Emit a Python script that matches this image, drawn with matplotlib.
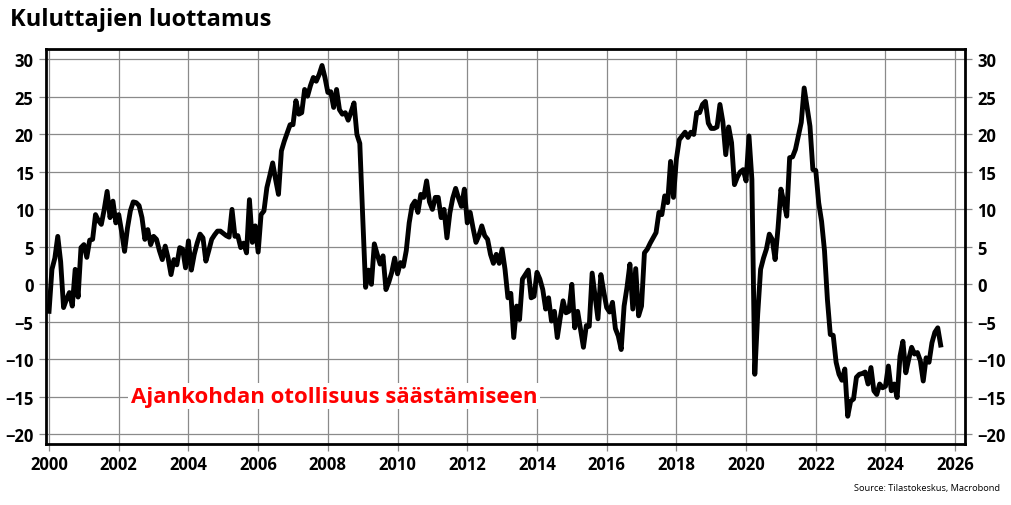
import numpy as np
import matplotlib
matplotlib.use("Agg")
import matplotlib.pyplot as plt

# Ajankohdan otollisuus säästämiseen, monthly saldoluku, Jan 2000 -> Aug 2025
v2000 = [-3.6, 2.0, 3.5, 6.4, 3.0, -3.1, -2.0, -1.1, -2.9, 2.0, -1.7, 4.9]
v2001 = [5.3, 3.6, 5.9, 6.0, 9.3, 8.5, 8.0, 10.0, 12.4, 8.9, 11.1, 8.2]
v2002 = [9.3, 7.0, 4.4, 7.5, 9.8, 11.0, 10.9, 10.5, 8.9, 6.0, 7.3, 5.3]
v2003 = [6.4, 6.0, 4.5, 3.3, 5.1, 3.5, 1.3, 3.3, 2.6, 4.9, 4.7, 2.2]
v2004 = [5.8, 1.9, 4.0, 5.5, 6.7, 6.2, 3.1, 4.5, 6.0, 6.6, 7.1, 7.1]
v2005 = [6.8, 6.5, 6.3, 10.0, 6.4, 6.5, 4.9, 5.5, 4.2, 11.3, 5.6, 7.8]
v2006 = [4.3, 9.3, 9.8, 12.9, 14.5, 16.2, 14.0, 12.0, 17.8, 19.1, 20.2, 21.3]
v2007 = [21.3, 24.5, 22.7, 22.9, 26.0, 25.1, 26.5, 27.6, 27.1, 28.0, 29.2, 27.6]
v2008 = [25.6, 25.7, 23.6, 26.0, 23.3, 22.7, 22.9, 21.9, 23.0, 24.2, 20.0, 18.8]
v2009 = [9.0, -0.4, 1.9, 0.0, 5.4, 4.0, 2.7, 3.8, -0.7, 0.3, 1.6, 3.5]
v2010 = [1.4, 2.9, 2.4, 4.5, 8.2, 10.5, 11.1, 9.6, 12.0, 11.6, 13.8, 11.0]
v2011 = [10.0, 11.6, 11.6, 8.9, 10.0, 6.2, 9.5, 11.5, 12.8, 11.5, 10.4, 12.7]
v2012 = [8.2, 9.6, 7.5, 5.6, 6.5, 7.8, 6.5, 6.0, 4.0, 2.8, 4.0, 2.8]
v2013 = [4.7, 2.0, -1.8, -1.2, -7.1, -2.9, -4.7, 0.7, 1.3, 1.9, -1.8, -1.6]
v2014 = [1.6, 0.7, -0.7, -3.3, -1.8, -4.9, -3.6, -7.1, -4.5, -2.2, -3.8, -3.6]
v2015 = [0.0, -5.8, -3.6, -6.0, -8.4, -5.5, -5.6, 1.5, -1.5, -4.6, 1.3, -1.0]
v2016 = [-3.1, -3.7, -2.4, -5.9, -6.9, -8.7, -2.9, -0.4, 2.7, -3.3, 2.1, -4.2]
v2017 = [-2.9, 4.2, 4.7, 5.5, 6.2, 6.9, 9.6, 9.3, 11.8, 10.9, 16.4, 11.6]
v2018 = [16.7, 19.3, 19.8, 20.3, 19.6, 20.3, 20.0, 22.9, 22.9, 24.0, 24.4, 21.5]
v2019 = [20.8, 20.8, 21.0, 24.0, 21.7, 17.3, 21.0, 18.9, 13.3, 14.3, 15.0, 15.3]
v2020 = [13.8, 19.8, 14.0, -12.0, -4.0, 2.0, 3.5, 4.7, 6.7, 6.0, 3.3, 7.5]
v2021 = [12.7, 11.0, 9.1, 16.9, 17.0, 18.0, 19.8, 21.6, 26.2, 23.6, 21.1, 15.3]
v2022 = [15.2, 10.9, 8.4, 4.5, -2.0, -6.7, -6.8, -10.4, -12.0, -12.8, -11.3, -17.6]
v2023 = [-15.6, -15.3, -12.4, -12.0, -11.9, -11.7, -13.3, -11.1, -14.2, -14.7, -13.3, -13.8]
v2024 = [-13.6, -10.9, -14.2, -13.3, -15.1, -9.6, -7.6, -11.8, -10.0, -8.4, -9.3, -9.1]
v2025 = [-10.2, -12.9, -9.8, -10.4, -7.8, -6.4, -5.8, -8.1]

values = np.array(v2000 + v2001 + v2002 + v2003 + v2004 + v2005 + v2006 + v2007
                  + v2008 + v2009 + v2010 + v2011 + v2012 + v2013 + v2014 + v2015
                  + v2016 + v2017 + v2018 + v2019 + v2020 + v2021 + v2022 + v2023
                  + v2024 + v2025)
years = 2000 + np.arange(len(values)) / 12

x_ticks = list(range(2000, 2027, 2))
y_ticks = list(range(-20, 31, 5))

plt.rcParams['font.family'] = ['Open Sans', 'DejaVu Sans']

fig = plt.figure(figsize=(10.12, 5.06), dpi=100)
ax = fig.add_axes([0.0455, 0.1206, 0.908, 0.7806])

ax.plot(years, values, color="black", lw=3.5, solid_joinstyle="round", zorder=3)

ax.set_xlim(1999.914, 2026.28)
ax.set_ylim(-21.3, 31.4)
ax.set_xticks(x_ticks)
ax.set_yticks(y_ticks)
ax.grid(True, color="#8a8a8a", lw=0.9)
ax.tick_params(axis="both", colors="#8a8a8a", length=5, width=0.9, labelsize=12,
               labelcolor="black")
ax.tick_params(axis="y", right=True, labelright=True, pad=4)
ax.tick_params(axis="x", pad=3)
for lbl in ax.get_xticklabels() + ax.get_yticklabels():
    lbl.set_fontweight("bold")
for sp in ax.spines.values():
    sp.set_linewidth(2)
    sp.set_color("black")

fig.text(0.01, 0.96, "Kuluttajien luottamus", fontsize=17, fontweight="bold",
         ha="left", va="center")
ax.text(2002.35, -14.9, "Ajankohdan otollisuus säästämiseen", color="red",
        fontsize=16, fontweight="bold", ha="left", va="center", zorder=4,
        bbox=dict(facecolor="white", edgecolor="none", pad=2))
fig.text(0.988, 0.035, "Source: Tilastokeskus, Macrobond", fontsize=6.7,
         ha="right", va="center")

fig.savefig("out.png", dpi=100)
